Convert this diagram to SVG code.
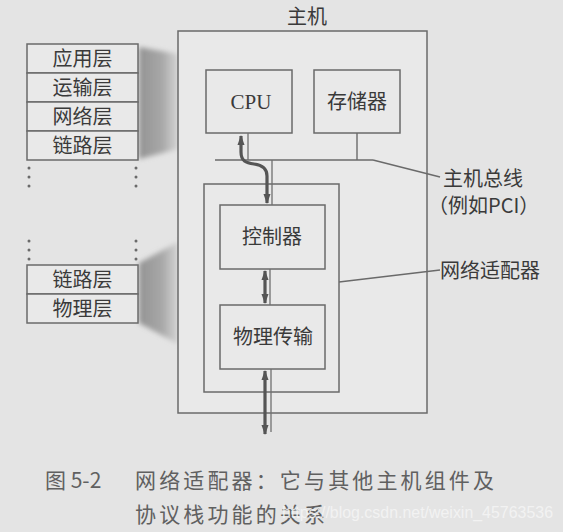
<svg xmlns="http://www.w3.org/2000/svg" width="563" height="532" viewBox="0 0 563 532">
  <defs>
    <style>
      .box { fill: #e9e9e9; stroke: #6a6a6a; stroke-width: 1.5; }
      .ln { fill: none; stroke: #6a6a6a; stroke-width: 1.4; }
      .thick { fill: none; stroke: #555; stroke-width: 3.2; marker-start: url(#ah); marker-end: url(#ah); }
      .thin { fill: none; stroke: #707070; stroke-width: 1.3; }
      .t { font-family: "Noto Sans CJK SC", "Noto Sans", sans-serif; font-size: 20px; fill: #3a3a3a; }
      .c { text-anchor: middle; }
      .dot { fill: #6a6a6a; }
      .cap { font-family: "Noto Sans CJK SC", "Noto Sans", sans-serif; font-size: 21px; fill: #606060; }
    </style>
    <marker id="ah" viewBox="0 0 10 10" refX="9" refY="5" markerWidth="3.2" markerHeight="3.2" orient="auto-start-reverse" markerUnits="strokeWidth">
      <path d="M0,1.5 L10,5 L0,8.5 Z" fill="#555"/>
    </marker>
    <linearGradient id="sh" x1="0" y1="0" x2="1" y2="0">
      <stop offset="0" stop-color="#8a8a8a" stop-opacity="0.9"/>
      <stop offset="0.6" stop-color="#999" stop-opacity="0.8"/>
      <stop offset="1" stop-color="#bdbdbd" stop-opacity="0.5"/>
    </linearGradient>
    <filter id="blur" x="-20%" y="-20%" width="140%" height="140%">
      <feGaussianBlur stdDeviation="2.5"/>
    </filter>
  </defs>

  <rect x="0" y="0" width="563" height="532" fill="#e4e4e4"/>

  <!-- shadows between protocol stack and host -->
  <g id="shadows" filter="url(#blur)">
    <polygon points="139,47 178,54 178,149 139,159" fill="url(#sh)"/>
    <polygon points="139,263 178,242 178,344 139,323" fill="url(#sh)"/>
  </g>

  <!-- protocol stack (upper) -->
  <g id="stack-upper">
    <rect class="box" x="27" y="44" width="111" height="29"/>
    <rect class="box" x="27" y="73" width="111" height="29"/>
    <rect class="box" x="27" y="102" width="111" height="29"/>
    <rect class="box" x="27" y="131" width="111" height="29"/>
    <text class="t c" x="82.5" y="65.5">应用层</text>
    <text class="t c" x="82.5" y="94.5">运输层</text>
    <text class="t c" x="82.5" y="123.5">网络层</text>
    <text class="t c" x="82.5" y="152.5">链路层</text>
  </g>
  <g id="dots">
    <circle class="dot" cx="29" cy="168" r="1.5"/>
    <circle class="dot" cx="29" cy="177" r="1.5"/>
    <circle class="dot" cx="29" cy="186" r="1.5"/>
    <circle class="dot" cx="136" cy="168" r="1.5"/>
    <circle class="dot" cx="136" cy="177" r="1.5"/>
    <circle class="dot" cx="136" cy="186" r="1.5"/>
    <circle class="dot" cx="29" cy="241" r="1.5"/>
    <circle class="dot" cx="29" cy="250" r="1.5"/>
    <circle class="dot" cx="29" cy="259" r="1.5"/>
    <circle class="dot" cx="136" cy="241" r="1.5"/>
    <circle class="dot" cx="136" cy="250" r="1.5"/>
    <circle class="dot" cx="136" cy="259" r="1.5"/>
  </g>
  <g id="stack-lower">
    <rect class="box" x="27" y="265" width="111" height="29"/>
    <rect class="box" x="27" y="294" width="111" height="29"/>
    <text class="t c" x="82.5" y="286.5">链路层</text>
    <text class="t c" x="82.5" y="315.5">物理层</text>
  </g>

  <!-- host -->
  <g id="host">
    <rect class="box" x="178" y="31" width="249" height="382"/>
    <text class="t c" x="307" y="24">主机</text>
  </g>
  <g id="cpu">
    <rect class="box" x="206" y="70" width="86" height="63"/>
    <text class="c" x="251" y="109" font-family="Liberation Serif, serif" font-size="21" fill="#3a3a3a">CPU</text>
  </g>
  <g id="memory">
    <rect class="box" x="314" y="70" width="86" height="63"/>
    <text class="t c" x="357" y="109">存储器</text>
  </g>
  <g id="adapter">
    <rect class="box" x="204" y="184" width="135" height="208"/>
  </g>
  <g id="controller">
    <rect class="box" x="220" y="205" width="105" height="64"/>
    <text class="t c" x="272" y="244">控制器</text>
  </g>
  <g id="phy">
    <rect class="box" x="220" y="305" width="105" height="64"/>
    <text class="t c" x="273" y="344">物理传输</text>
  </g>

  <!-- labels -->
  <g id="labels">
    <text class="t" x="443" y="186">主机总线</text>
    <text class="t" x="428" y="213">（例如PCI）</text>
    <text class="t" x="440" y="278">网络适配器</text>
  </g>

  <!-- connectors -->
  <g id="connectors">
    <line class="ln" x1="215" y1="160" x2="373" y2="160"/>
    <line class="ln" x1="357" y1="133" x2="357" y2="160"/>
    <polyline class="ln" points="373,160 440,177"/>
    <line class="ln" x1="339" y1="282" x2="440" y2="270"/>
    <line class="thin" x1="248" y1="133" x2="248" y2="160"/>
    <line class="thin" x1="272" y1="160" x2="272" y2="205"/>
    <path class="thick" d="M241,136 L241,152 C241,161 246,163 254,164 C262,165 267,168 267,176 L267,203"/>
    <line class="thin" x1="270" y1="269" x2="270" y2="305"/>
    <line class="thick" x1="265" y1="271" x2="265" y2="303"/>
    <line class="thin" x1="271" y1="369" x2="271" y2="432"/>
    <line class="thick" x1="265" y1="371" x2="265" y2="434"/>
  </g>

  <!-- caption -->
  <g id="caption">
    <text class="cap" x="45" y="488">图 5-2</text>
    <text class="cap" x="135" y="488" textLength="359" lengthAdjust="spacing">网络适配器：它与其他主机组件及</text>
    <text class="cap" x="135" y="522" textLength="190" lengthAdjust="spacing">协议栈功能的关系</text>
    <text x="282" y="518" font-family="Liberation Sans, sans-serif" font-size="16" fill="#f4f4f4" fill-opacity="0.9" textLength="271" lengthAdjust="spacingAndGlyphs">https://blog.csdn.net/weixin_45763536</text>
  </g>
</svg>
